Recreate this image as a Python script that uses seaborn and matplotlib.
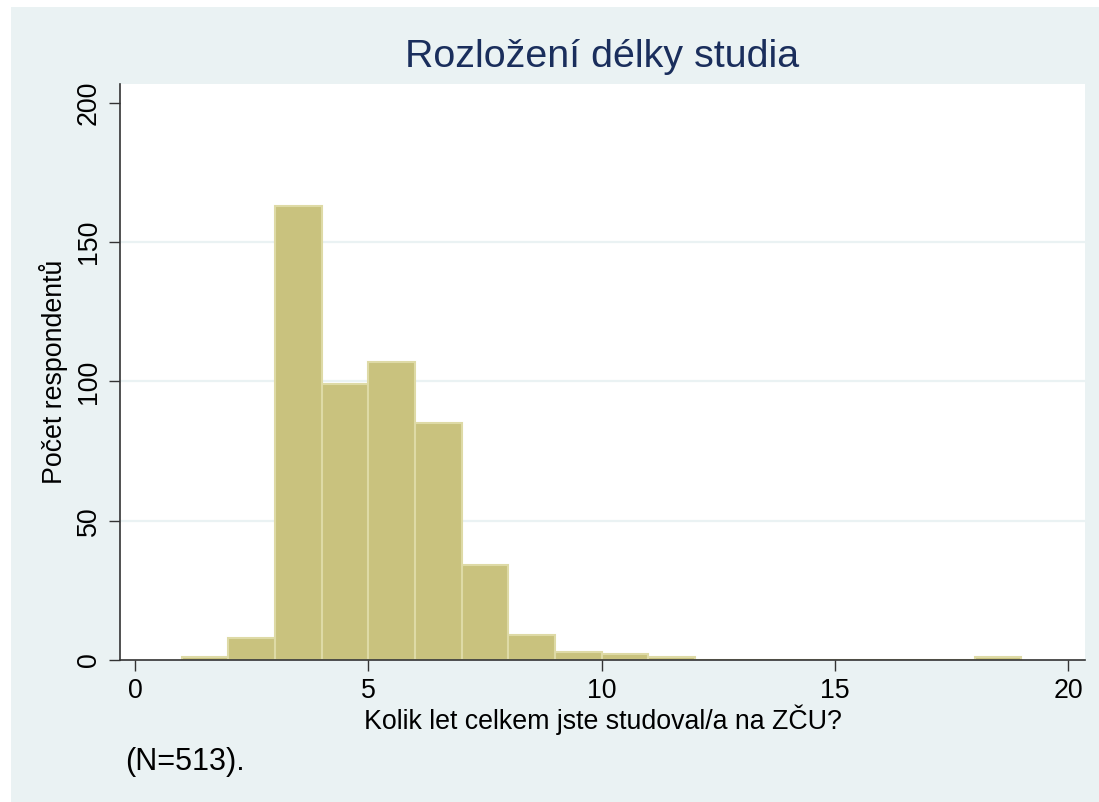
import matplotlib
matplotlib.use("Agg")
import matplotlib.pyplot as plt
import matplotlib.patches as mpatches
import seaborn as sns
import numpy as np
import pandas as pd

# ─── Data: počty respondentů po letech studia ───────────────────────
years = [1, 2, 3, 4, 5, 6, 7, 8, 9, 10, 11, 12, 13, 14, 15, 16, 17, 18]
counts = [1, 8, 163, 99, 107, 85, 34, 9, 3, 2, 1, 0, 0, 0, 0, 0, 0, 1]
x_ticks = [0, 5, 10, 15, 20]
y_ticks = [0, 50, 100, 150, 200]

TITLE = "Rozložení délky studia"
XLABEL = "Kolik let celkem jste studoval/a na ZČU?"
YLABEL = "Počet respondentů"
NOTE = "(N=513)."

BG = "#EAF2F3"
BAR = "#C9C27E"
BAR_EDGE = "#DEDAA6"
NAVY = "#1A2E5C"

sns.set_theme(style="white")
plt.rcParams["font.family"] = ["Liberation Sans", "DejaVu Sans"]

df = pd.DataFrame({"rok": [y + 0.5 for y in years], "pocet": counts})

fig = plt.figure(figsize=(10.99, 8.02), dpi=100, facecolor="white")
fig.patches.append(mpatches.Rectangle((11 / 1099, 0), 1 - 11 / 1099, 1 - 7 / 802,
                                      transform=fig.transFigure, facecolor=BG,
                                      edgecolor="none", zorder=-10))
ax = fig.add_axes([120 / 1099, 1 - 660 / 802, (1085 - 120) / 1099, (660 - 84) / 802])
ax.set_facecolor("white")

sns.histplot(data=df, x="rok", weights="pocet", binwidth=1, binrange=(1, 19),
             color=BAR, edgecolor=BAR_EDGE, linewidth=1.5, alpha=1, ax=ax, zorder=3)

ax.set_xlim(-0.3215, 20.364)
ax.set_ylim(0, 206.8)
ax.set_xticks(x_ticks)
ax.set_yticks(y_ticks)
ax.set_yticklabels([str(v) for v in y_ticks], rotation=90, va="center")
ax.tick_params(axis="both", direction="out", length=8, width=1, color="#333333",
               labelsize=19.3, pad=5, labelcolor="black")
ax.tick_params(axis="x", bottom=True)
ax.tick_params(axis="y", left=True)

for v in y_ticks[1:-1]:
    ax.axhline(v, color=BG, linewidth=1.6, zorder=1)

for side in ["top", "right"]:
    ax.spines[side].set_visible(False)
for side in ["left", "bottom"]:
    ax.spines[side].set_color("#333333")
    ax.spines[side].set_linewidth(1.2)
    ax.spines[side].set_zorder(5)

ax.set_xlabel(XLABEL, fontsize=19.3, color="black", labelpad=0)
ax.set_ylabel(YLABEL, fontsize=19.3, color="black", labelpad=6)
ax.set_title(TITLE, fontsize=28.4, color=NAVY, pad=12)

fig.text(125 / 1099, 1 - 762 / 802, NOTE, fontsize=22, color="black",
         ha="left", va="center")

fig.savefig("out.png", dpi=100, facecolor=fig.get_facecolor())
